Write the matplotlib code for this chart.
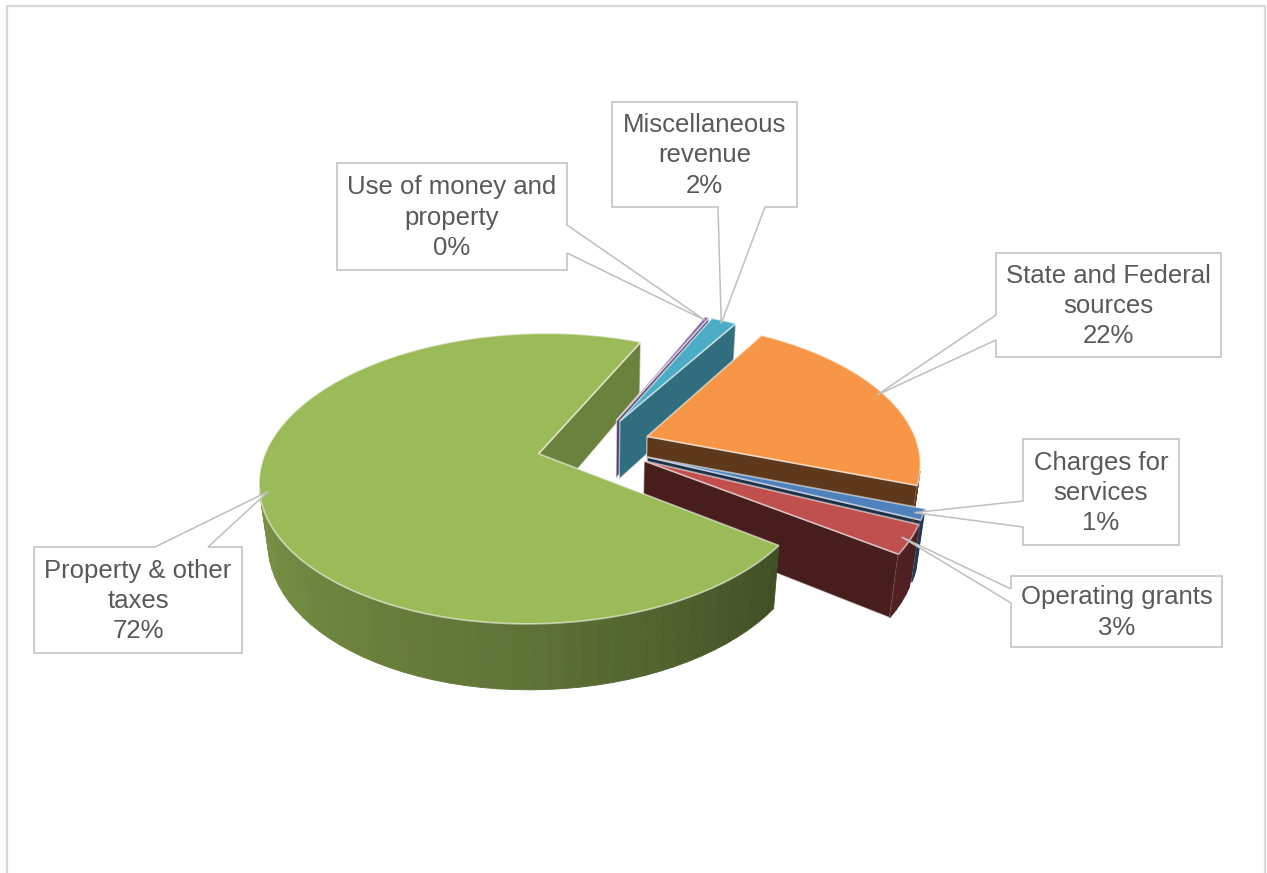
import numpy as np
import matplotlib
matplotlib.use("Agg")
import matplotlib.pyplot as plt
from matplotlib.patches import Polygon
from matplotlib.colors import to_rgb

# slices in Excel's clockwise order (first slice starts at START, math degrees)
labels = ["Charges for\nservices", "Operating grants", "Property & other\ntaxes",
          "Use of money and\nproperty", "Miscellaneous\nrevenue", "State and Federal\nsources"]
values = [1.2, 3.2, 71.6, 0.3, 1.8, 21.9]
colors = ["#4F81BD", "#C0504D", "#9BBB59", "#8064A2", "#4BACC6", "#F79646"]

# callout layout in pixels: box (x0, y0, x1, y1), side of the pointer, pointer base
boxes = [(1023, 439, 1179, 545), (1011, 576, 1222, 647), (34, 547, 242, 653),
         (337, 163, 567, 270), (612, 102, 797, 207), (996, 253, 1221, 357)]
sides = ["left", "left", "top", "right", "bottom", "left"]
bases = [(501, 527), (589, 603), (155, 208), (225, 253), (718, 765), (315, 340)]

START = -20.0
EXPLODE = 0.21
H = 0.26
EL = np.radians(30.7)
D = 5.07
S = 271.0
X0, Y0 = 594.0, 446.0
CAM = np.array([0.0, -D * np.cos(EL), D * np.sin(EL)])
TXT = "#595959"
LINE = "#BFBFBF"


def proj(x, y, z):
    u = y * np.sin(EL) + z * np.cos(EL)
    w = y * np.cos(EL) - z * np.sin(EL)
    sc = D / (D + w)
    return X0 + S * x * sc, Y0 - S * u * sc


def depth(x, y, z):
    return y * np.cos(EL) - z * np.sin(EL)


def shade(c, f):
    r, g, b = to_rgb(c)
    return (r * f, g * f, b * f)


def rim(cx, cy, th, z):
    t = np.radians(th)
    return proj(cx + np.cos(t), cy + np.sin(t), z + 0 * t)


fig = plt.figure(figsize=(12.67, 8.73), dpi=100)
ax = fig.add_axes([0, 0, 1, 1])
ax.set_xlim(0, 1267)
ax.set_ylim(873, 0)
ax.axis("off")

# chart frame
ax.plot([7, 7, 1265, 1265], [873, 6, 6, 873], color="#D9D9D9", lw=1.6,
        solid_joinstyle="miter")

total = sum(values)
frac = np.array(values) / total
a_end = START - 360 * np.cumsum(frac)
a_start = a_end + 360 * frac

faces, walls, tops, tips = [], [], [], []
for i in range(len(values)):
    a1, a2 = a_end[i], a_start[i]
    mid = np.radians((a1 + a2) / 2)
    cx, cy = EXPLODE * np.cos(mid), EXPLODE * np.sin(mid)
    c = colors[i]

    # top face
    th = np.linspace(a1, a2, max(3, int(abs(a2 - a1)) + 2))
    xs, ys = rim(cx, cy, th, 0)
    px0, py0 = proj(cx, cy, 0)
    tops.append((np.column_stack([np.r_[px0, xs], np.r_[py0, ys]]), c))

    # callout tip
    r = 0.97
    tips.append(proj(cx + r * np.cos(mid), cy + r * np.sin(mid), 0))

    # outer wall, strip by strip
    th = np.linspace(a1, a2, max(2, int(abs(a2 - a1) / 3) + 2))
    for t0, t1 in zip(th[:-1], th[1:]):
        tm = np.radians((t0 + t1) / 2)
        p = np.array([cx + np.cos(tm), cy + np.sin(tm), -H / 2])
        nrm = np.array([np.cos(tm), np.sin(tm), 0])
        if nrm @ (CAM - p) <= 0:
            continue
        xa, ya = rim(cx, cy, np.array([t0, t1, t1, t0]), np.array([0, 0, -H, -H]))
        phi = (np.degrees(tm) - 90) % 360 + 90
        f = np.interp(phi, [90, 180, 270, 330, 450], [0.85, 0.82, 0.61, 0.40, 0.40])
        walls.append((depth(*p), np.column_stack([xa, ya]), shade(c, f)))

    # radial cut faces
    for a, na in ((a1, a1 - 90), (a2, a2 + 90)):
        t = np.radians(a)
        nrm = np.array([np.cos(np.radians(na)), np.sin(np.radians(na)), 0])
        p = np.array([cx + 0.5 * np.cos(t), cy + 0.5 * np.sin(t), -H / 2])
        if nrm @ (CAM - p) <= 0:
            continue
        qx = cx + np.array([0, np.cos(t), np.cos(t), 0])
        qy = cy + np.array([0, np.sin(t), np.sin(t), 0])
        qz = np.array([0, 0, -H, -H])
        xa, ya = proj(qx, qy, qz)
        nn = (na + 180) % 360 - 180
        f = np.interp(nn, [-180, -110, -30, -20, 0], [0.36, 0.38, 0.64, 0.72, 0.8])
        key = (a + 180) % 360 - 180
        faces.append((key, np.column_stack([xa, ya]), shade(c, f)))

edge = (1, 1, 1, 0.55)
for key, pts, fc in sorted(faces, key=lambda q: -q[0]):
    ax.add_patch(Polygon(pts, closed=True, facecolor=fc, edgecolor=edge, lw=1.0, zorder=2))
for dep, pts, fc in sorted(walls, key=lambda q: -q[0]):
    ax.add_patch(Polygon(pts, closed=True, facecolor=fc, edgecolor=fc, lw=0.6, zorder=3))
for pts, fc in tops:
    ax.add_patch(Polygon(pts, closed=True, facecolor=fc, edgecolor=edge, lw=1.2, zorder=4))

# callouts
for i in range(len(values)):
    x0, y0, x1, y1 = boxes[i]
    b1, b2 = bases[i]
    tx, ty = tips[i]
    side = sides[i]
    if side == "left":
        pts = [(x0, y0), (x1, y0), (x1, y1), (x0, y1), (x0, b2), (tx, ty), (x0, b1)]
    elif side == "right":
        pts = [(x0, y0), (x1, y0), (x1, b1), (tx, ty), (x1, b2), (x1, y1), (x0, y1)]
    elif side == "top":
        pts = [(x0, y0), (b1, y0), (tx, ty), (b2, y0), (x1, y0), (x1, y1), (x0, y1)]
    else:
        pts = [(x0, y0), (x1, y0), (x1, y1), (b2, y1), (tx, ty), (b1, y1), (x0, y1)]
    ax.add_patch(Polygon(pts, closed=True, facecolor="white", edgecolor=LINE,
                         lw=1.1, zorder=6))
    pct = f"{round(values[i] / total * 100)}%"
    ax.text((x0 + x1) / 2, (y0 + y1) / 2 + 1, labels[i] + "\n" + pct,
            ha="center", va="center", fontsize=18.5, color=TXT, linespacing=1.32,
            family=["Liberation Sans", "DejaVu Sans"], zorder=7)

fig.savefig("out.png", dpi=100)
